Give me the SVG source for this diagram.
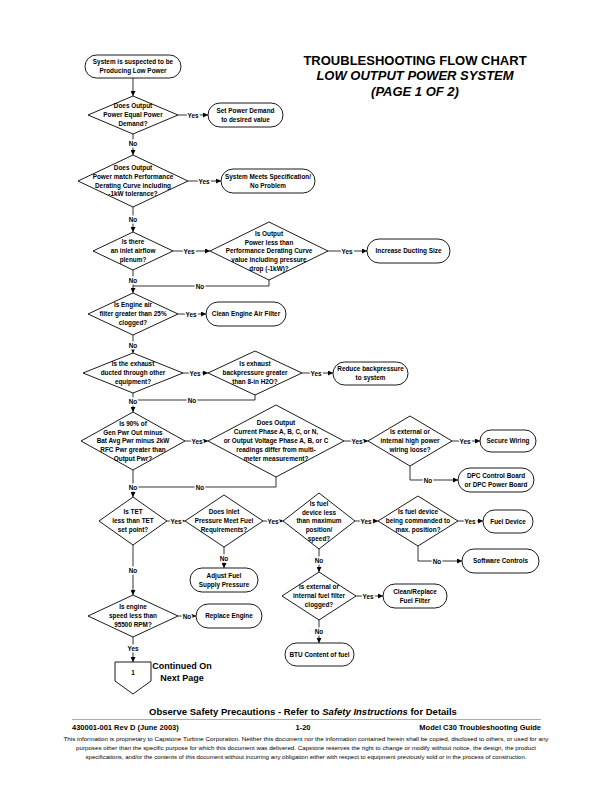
<svg xmlns="http://www.w3.org/2000/svg" width="612" height="792" viewBox="0 0 612 792">
<defs>
<marker id="ah" viewBox="0 0 8 8" refX="8" refY="4" markerWidth="5" markerHeight="5" orient="auto" markerUnits="userSpaceOnUse">
<path d="M0,0 L8,4 L0,8 z" fill="#000"/>
</marker>
<style>
.n{fill:#fff;stroke:#000;stroke-width:0.9}
.t{font-family:"Liberation Sans",Arial,sans-serif;font-weight:bold;font-size:6.4px;text-anchor:middle;fill:#000}
.c{fill:none;stroke:#000;stroke-width:0.8}
.a{marker-end:url(#ah)}
.l{font-family:"Liberation Sans",Arial,sans-serif;font-weight:bold;font-size:6.4px;text-anchor:middle;fill:#000;stroke:#fff;stroke-width:3;paint-order:stroke;dominant-baseline:central}
.h{font-family:"Liberation Sans",Arial,sans-serif;font-weight:bold;font-size:13px;text-anchor:middle}
.f{font-family:"Liberation Sans",Arial,sans-serif;fill:#000}
</style>
</defs>
<rect width="612" height="792" fill="#fff"/>

<g id="title">
<text class="h" x="415" y="65">TROUBLESHOOTING FLOW CHART</text>
<text class="h" x="415" y="80" font-style="italic">LOW OUTPUT POWER SYSTEM</text>
<text class="h" x="415" y="96" font-style="italic">(PAGE 1 OF 2)</text>
</g>

<g id="connectors">
<path class="c a" d="M133,78 V96"/>
<path class="c a" d="M178,115 H208"/><text class="l" x="193" y="115">Yes</text>
<path class="c a" d="M133,134 V155"/><text class="l" x="133" y="143">No</text>
<path class="c a" d="M188,181 H221"/><text class="l" x="204" y="181">Yes</text>
<path class="c a" d="M133,207 V232"/><text class="l" x="133" y="219">No</text>
<path class="c a" d="M173,251 H210"/><text class="l" x="189" y="251">Yes</text>
<path class="c a" d="M328,251 H367"/><text class="l" x="347" y="251">Yes</text>
<path class="c" d="M269,280 V286 H133"/><text class="l" x="200" y="286">No</text>
<path class="c a" d="M133,270 V293"/><text class="l" x="133" y="280">No</text>
<path class="c a" d="M178,314 H206"/><text class="l" x="191" y="314">Yes</text>
<path class="c a" d="M133,335 V353"/><text class="l" x="133" y="345">No</text>
<path class="c a" d="M183,373 H208"/><text class="l" x="195" y="373">Yes</text>
<path class="c a" d="M302,373 H333"/><text class="l" x="316" y="373">Yes</text>
<path class="c" d="M255,395 V400 H133"/><text class="l" x="192" y="400">No</text>
<path class="c a" d="M133,393 V412"/><text class="l" x="133" y="401">No</text>
<path class="c a" d="M185,441 H208"/><text class="l" x="197" y="441">Yes</text>
<path class="c a" d="M344,441 H368"/><text class="l" x="357" y="441">Yes</text>
<path class="c a" d="M452,441 H480"/><text class="l" x="465" y="441">Yes</text>
<path class="c a" d="M410,466 V480 H458"/><text class="l" x="428" y="480">No</text>
<path class="c" d="M276,477 V487 H133"/><text class="l" x="200" y="487">No</text>
<path class="c a" d="M133,470 V497"/><text class="l" x="133" y="487">No</text>
<path class="c a" d="M167,521 H185"/><text class="l" x="176" y="521">Yes</text>
<path class="c a" d="M263,521 H283"/><text class="l" x="273" y="521">Yes</text>
<path class="c a" d="M355,521 H378"/><text class="l" x="366" y="521">Yes</text>
<path class="c a" d="M458,521 H483"/><text class="l" x="470" y="521">Yes</text>
<path class="c a" d="M418,546 V561 H462"/><text class="l" x="437" y="561">No</text>
<path class="c a" d="M224,547 V568"/><text class="l" x="224" y="558">No</text>
<path class="c a" d="M319,549 V572"/><text class="l" x="319" y="560">No</text>
<path class="c a" d="M356,596 H383"/><text class="l" x="368" y="596">Yes</text>
<path class="c a" d="M319,620 V643"/><text class="l" x="319" y="631">No</text>
<path class="c a" d="M133,545 V595"/><text class="l" x="133" y="570">No</text>
<path class="c a" d="M178,616 H196"/><text class="l" x="187" y="616">No</text>
<path class="c a" d="M133,637 V662"/><text class="l" x="133" y="648">Yes</text>
</g>

<g id="start">
<rect class="n" x="85" y="55" width="96" height="23" rx="11.5"/>
<text class="t" x="133" y="64.3"><tspan x="133">System is suspected to be</tspan><tspan x="133" dy="9">Producing Low Power</tspan></text>
</g>
<g id="d1">
<polygon class="n" points="133,96 178,115 133,134 88,115"/>
<text class="t" x="133" y="108.3"><tspan x="133">Does Output</tspan><tspan x="133" dy="9">Power Equal Power</tspan><tspan x="133" dy="9">Demand?</tspan></text>
</g>
<g id="t1">
<rect class="n" x="208" y="103" width="75" height="24" rx="12"/>
<text class="t" x="245.5" y="112.8"><tspan x="245.5">Set Power Demand</tspan><tspan x="245.5" dy="9">to desired value</tspan></text>
</g>
<g id="d2">
<polygon class="n" points="133,155 188,181 133,207 78,181"/>
<text class="t" x="133" y="170.4"><tspan x="133">Does Output</tspan><tspan x="133" dy="8.6">Power match Performance</tspan><tspan x="133" dy="8.6">Derating Curve including</tspan><tspan x="133" dy="8.6">-1kW tolerance?</tspan></text>
</g>
<g id="t2">
<rect class="n" x="221" y="169" width="94" height="24" rx="12"/>
<text class="t" x="268" y="178.8" font-size="6.1"><tspan x="268">System Meets Specification/</tspan><tspan x="268" dy="9">No Problem</tspan></text>
</g>
<g id="d3">
<polygon class="n" points="133,232 173,251 133,270 93,251"/>
<text class="t" x="133" y="244.3"><tspan x="133">Is there</tspan><tspan x="133" dy="9">an inlet airflow</tspan><tspan x="133" dy="9">plenum?</tspan></text>
</g>
<g id="d4">
<polygon class="n" points="269,222 328,251 269,280 210,251"/>
<text class="t" x="269" y="236.1"><tspan x="269">Is Output</tspan><tspan x="269" dy="8.6">Power less than</tspan><tspan x="269" dy="8.6">Performance Derating Curve</tspan><tspan x="269" dy="8.6">value including pressure</tspan><tspan x="269" dy="8.6">drop (-1kW)?</tspan></text>
</g>
<g id="t3">
<rect class="n" x="367" y="239" width="83" height="24" rx="12"/>
<text class="t" x="408.5" y="253.3">Increase Ducting Size</text>
</g>
<g id="d5">
<polygon class="n" points="133,293 178,314 133,335 88,314"/>
<text class="t" x="133" y="307.3"><tspan x="133">Is Engine air</tspan><tspan x="133" dy="9">filter greater than 25%</tspan><tspan x="133" dy="9">clogged?</tspan></text>
</g>
<g id="t4">
<rect class="n" x="206" y="302" width="80" height="24" rx="12"/>
<text class="t" x="246" y="316.3">Clean Engine Air Filter</text>
</g>
<g id="d6">
<polygon class="n" points="133,353 183,373 133,393 83,373"/>
<text class="t" x="133" y="366.3"><tspan x="133">Is the exhaust</tspan><tspan x="133" dy="9">ducted through other</tspan><tspan x="133" dy="9">equipment?</tspan></text>
</g>
<g id="d7">
<polygon class="n" points="255,351 302,373 255,395 208,373"/>
<text class="t" x="255" y="366.3"><tspan x="255">Is exhaust</tspan><tspan x="255" dy="9">backpressure greater</tspan><tspan x="255" dy="9">than 8-in H2O?</tspan></text>
</g>
<g id="t5">
<rect class="n" x="333" y="362" width="75" height="23" rx="11.5"/>
<text class="t" x="370.5" y="371.3"><tspan x="370.5">Reduce backpressure</tspan><tspan x="370.5" dy="9">to system</tspan></text>
</g>
<g id="d8">
<polygon class="n" points="133,412 185,441 133,470 81,441"/>
<text class="t" x="133" y="426.1"><tspan x="133">Is 90% of</tspan><tspan x="133" dy="8.6">Gen Pwr Out minus</tspan><tspan x="133" dy="8.6">Bat Avg Pwr minus 2kW</tspan><tspan x="133" dy="8.6">RFC Pwr greater than</tspan><tspan x="133" dy="8.6">Output Pwr?</tspan></text>
</g>
<g id="d9">
<polygon class="n" points="276,405 344,441 276,477 208,441"/>
<text class="t" x="276" y="425.4" font-size="6.7"><tspan x="276">Does Output</tspan><tspan x="276" dy="9">Current Phase A, B, C, or N,</tspan><tspan x="276" dy="9">or Output Voltage Phase A, B, or C</tspan><tspan x="276" dy="9">readings differ from multi-</tspan><tspan x="276" dy="9">meter measurement?</tspan></text>
</g>
<g id="d10">
<polygon class="n" points="410,416 452,441 410,466 368,441"/>
<text class="t" x="410" y="434.3"><tspan x="410">Is external or</tspan><tspan x="410" dy="9">internal high power</tspan><tspan x="410" dy="9">wiring loose?</tspan></text>
</g>
<g id="t6">
<rect class="n" x="480" y="430" width="56" height="22" rx="11"/>
<text class="t" x="508" y="443.3">Secure Wiring</text>
</g>
<g id="t7">
<rect class="n" x="458" y="468" width="76" height="24" rx="12"/>
<text class="t" x="496" y="477.8"><tspan x="496">DPC Control Board</tspan><tspan x="496" dy="9">or DPC Power Board</tspan></text>
</g>
<g id="d11">
<polygon class="n" points="133,497 167,521 133,545 99,521"/>
<text class="t" x="133" y="514.3"><tspan x="133">Is TET</tspan><tspan x="133" dy="9">less than TET</tspan><tspan x="133" dy="9">set point?</tspan></text>
</g>
<g id="d12">
<polygon class="n" points="224,495 263,521 224,547 185,521"/>
<text class="t" x="224" y="514.3"><tspan x="224">Does Inlet</tspan><tspan x="224" dy="9">Pressure Meet Fuel</tspan><tspan x="224" dy="9">Requirements?</tspan></text>
</g>
<g id="t8">
<rect class="n" x="190" y="568" width="68" height="24" rx="12"/>
<text class="t" x="224" y="577.8"><tspan x="224">Adjust Fuel</tspan><tspan x="224" dy="9">Supply Pressure</tspan></text>
</g>
<g id="d13">
<polygon class="n" points="319,493 355,521 319,549 283,521"/>
<text class="t" x="319" y="506.1"><tspan x="319">Is fuel</tspan><tspan x="319" dy="8.6">device less</tspan><tspan x="319" dy="8.6">than maximum</tspan><tspan x="319" dy="8.6">position/</tspan><tspan x="319" dy="8.6">speed?</tspan></text>
</g>
<g id="d14">
<polygon class="n" points="418,496 458,521 418,546 378,521"/>
<text class="t" x="418" y="514.3"><tspan x="418">Is fuel device</tspan><tspan x="418" dy="9">being commanded to</tspan><tspan x="418" dy="9">max. position?</tspan></text>
</g>
<g id="t9">
<rect class="n" x="483" y="510" width="50" height="23" rx="11.5"/>
<text class="t" x="508" y="523.8">Fuel Device</text>
</g>
<g id="t10">
<rect class="n" x="462" y="549" width="77" height="24" rx="12"/>
<text class="t" x="500.5" y="563.3">Software Controls</text>
</g>
<g id="d15">
<polygon class="n" points="319,572 356,596 319,620 282,596"/>
<text class="t" x="319" y="589.3"><tspan x="319">Is external or</tspan><tspan x="319" dy="9">internal fuel filter</tspan><tspan x="319" dy="9">clogged?</tspan></text>
</g>
<g id="t11">
<rect class="n" x="383" y="584" width="64" height="24" rx="12"/>
<text class="t" x="415" y="593.8"><tspan x="415">Clean/Replace</tspan><tspan x="415" dy="9">Fuel Filter</tspan></text>
</g>
<g id="t12">
<rect class="n" x="285" y="643" width="69" height="23" rx="11.5"/>
<text class="t" x="319.5" y="656.8">BTU Content of fuel</text>
</g>
<g id="d16">
<polygon class="n" points="133,595 178,616 133,637 88,616"/>
<text class="t" x="133" y="609.3"><tspan x="133">Is engine</tspan><tspan x="133" dy="9">speed less than</tspan><tspan x="133" dy="9">95500 RPM?</tspan></text>
</g>
<g id="t13">
<rect class="n" x="196" y="604" width="66" height="24" rx="12"/>
<text class="t" x="229" y="618.3">Replace Engine</text>
</g>
<g id="offpage">
<polygon class="n" points="115,662 151,662 151,681 133,694 115,681"/>
<text class="t" x="133" y="675">1</text>
<text class="f" x="182" y="669" font-size="9" font-weight="bold" text-anchor="middle">Continued On</text>
<text class="f" x="182" y="681" font-size="9" font-weight="bold" text-anchor="middle">Next Page</text>
</g>

<g id="footer">
<text class="f" x="303" y="715" font-size="9.5" font-weight="bold" text-anchor="middle">Observe Safety Precautions - Refer to <tspan font-style="italic">Safety Instructions</tspan> for Details</text>
<line x1="72" y1="719.5" x2="541" y2="719.5" stroke="#999" stroke-width="0.8"/>
<text class="f" x="72" y="730" font-size="7.5" font-weight="bold">430001-001 Rev D (June 2003)</text>
<text class="f" x="303" y="730" font-size="7.5" font-weight="bold" text-anchor="middle">1-20</text>
<text class="f" x="541" y="730" font-size="7.5" font-weight="bold" text-anchor="end">Model C30 Troubleshooting Guide</text>
<text class="f" x="306" y="741" font-size="5.4" text-anchor="middle" textLength="485" lengthAdjust="spacingAndGlyphs">This information is proprietary to Capstone Turbine Corporation. Neither this document nor the information contained herein shall be copied, disclosed to others, or used for any</text>
<text class="f" x="306" y="750" font-size="5.4" text-anchor="middle" textLength="460" lengthAdjust="spacingAndGlyphs">purposes other than the specific purpose for which this document was delivered. Capstone reserves the right to change or modify without notice, the design, the product</text>
<text class="f" x="306" y="759" font-size="5.4" text-anchor="middle" textLength="441" lengthAdjust="spacingAndGlyphs">specifications, and/or the contents of this document without incurring any obligation either with respect to equipment previously sold or in the process of construction.</text>
</g>
</svg>
